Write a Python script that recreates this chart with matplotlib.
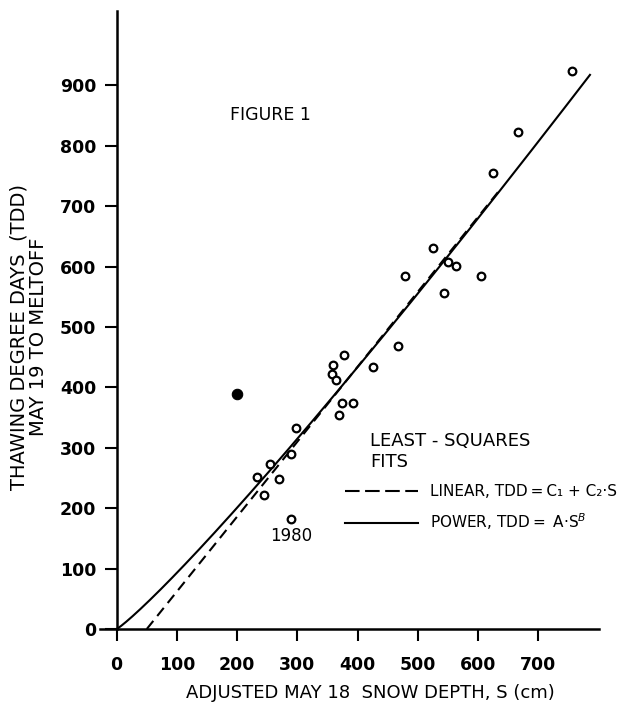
import matplotlib
matplotlib.use("Agg")
import matplotlib.pyplot as plt
import numpy as np
from matplotlib.lines import Line2D

# ---- data ----
snow_depth = [377, 359, 357, 365, 426, 375, 392, 369, 298, 290, 255, 270, 233, 244,
              479, 544, 551, 563, 605, 467, 526, 625, 667, 756]
tdd = [453, 437, 422, 412, 433, 374, 374, 355, 332, 290, 273, 248, 252, 221,
       585, 557, 607, 601, 584, 469, 630, 755, 823, 924]
snow_1980 = [289]
tdd_1980 = [182]
outlier_snow = [199]
outlier_tdd = [389]

# least-squares fit parameters
power_A = 0.5605
power_B = 1.110
power_s_max = 786
linear_C1 = -62.0
linear_C2 = 1.24
linear_s_range = [50, 637]

x_ticks = [0, 100, 200, 300, 400, 500, 600, 700]
y_ticks = [0, 100, 200, 300, 400, 500, 600, 700, 800, 900]

plt.rcParams['font.family'] = ['DejaVu Sans']

W, H = 628, 703
fig = plt.figure(figsize=(W / 100, H / 100), dpi=100)
ax = fig.add_axes([100 / W, 74 / H, 499 / W, 618 / H])
ax.set_xlim(-27.7, 801)
ax.set_ylim(0, 1023)

for s in ['top', 'right']:
    ax.spines[s].set_visible(False)
ax.spines['left'].set_position(('data', 0))
ax.spines['left'].set_linewidth(1.8)
ax.spines['bottom'].set_linewidth(1.8)

ax.set_xticks(x_ticks)
ax.set_yticks(y_ticks)
ax.set_xticklabels([str(v) for v in x_ticks])
ax.set_yticklabels([str(v) for v in y_ticks])
ax.tick_params(axis='x', direction='out', length=8.6, width=1.5, pad=11, labelsize=12.5)
ax.tick_params(axis='y', direction='out', length=8.6, width=1.5, pad=6, labelsize=12.5)
for lab in ax.get_xticklabels() + ax.get_yticklabels():
    lab.set_fontweight('bold')

# fitted curves
s_pow = np.linspace(0, power_s_max, 300)
ax.plot(s_pow, power_A * s_pow ** power_B, color='black', lw=1.5, zorder=2)
s_lin = np.array(linear_s_range, dtype=float)
ax.plot(s_lin, linear_C1 + linear_C2 * s_lin, color='black', lw=1.5,
        dashes=(5, 3), zorder=2)

# data points
ax.plot(snow_depth, tdd, 'o', ms=5.5, mew=1.6, mfc='white', mec='black',
        linestyle='none', zorder=3)
ax.plot(snow_1980, tdd_1980, 'o', ms=5.5, mew=1.6, mfc='white', mec='black',
        linestyle='none', zorder=3)
ax.plot(outlier_snow, outlier_tdd, 'o', ms=7.5, mew=0.8, mfc='black', mec='black',
        linestyle='none', zorder=3)
ax.annotate('1980', xy=(snow_1980[0], tdd_1980[0]), xytext=(0, -12.5),
            textcoords='offset points', ha='center', va='center', fontsize=12)

# texts
ax.text((230 - 100) / 499, (629 - 115) / 618, 'FIGURE 1', transform=ax.transAxes,
        ha='left', va='center', fontsize=12.5)
ax.text((370 - 100) / 499, (629 - 451.5) / 618, 'LEAST - SQUARES\nFITS',
        transform=ax.transAxes, ha='left', va='center', fontsize=13, linespacing=1.25)

handles = [Line2D([0], [0], color='black', lw=1.5, dashes=(7, 2.64)),
           Line2D([0], [0], color='black', lw=1.5)]
labels = ['LINEAR, TDD\u2009=\u2009C\u2081 + C\u2082\u00b7S',
          'POWER, TDD\u2009=\u2009 A\u00b7S$^B$']
ax.legend(handles, labels, loc='upper left',
          bbox_to_anchor=((345 - 100) / 499, (629 - 484) / 618),
          frameon=False, fontsize=11, handlelength=4.8, handletextpad=0.75,
          labelspacing=0.8, borderpad=0, borderaxespad=0)

ax.set_xlabel('ADJUSTED MAY 18  SNOW DEPTH, S (cm)', fontsize=13)
ax.xaxis.set_label_coords((370 - 100) / 499, (629 - 693) / 618)
ax.xaxis.label.set_va('center')
ax.set_ylabel('THAWING DEGREE DAYS  (TDD)\nMAY 19 TO MELTOFF', fontsize=14,
              linespacing=1.05, ha='center', va='center')
ax.yaxis.set_label_coords((29 - 100) / 499, (629 - 337) / 618)

fig.savefig('out.png', dpi=100)
